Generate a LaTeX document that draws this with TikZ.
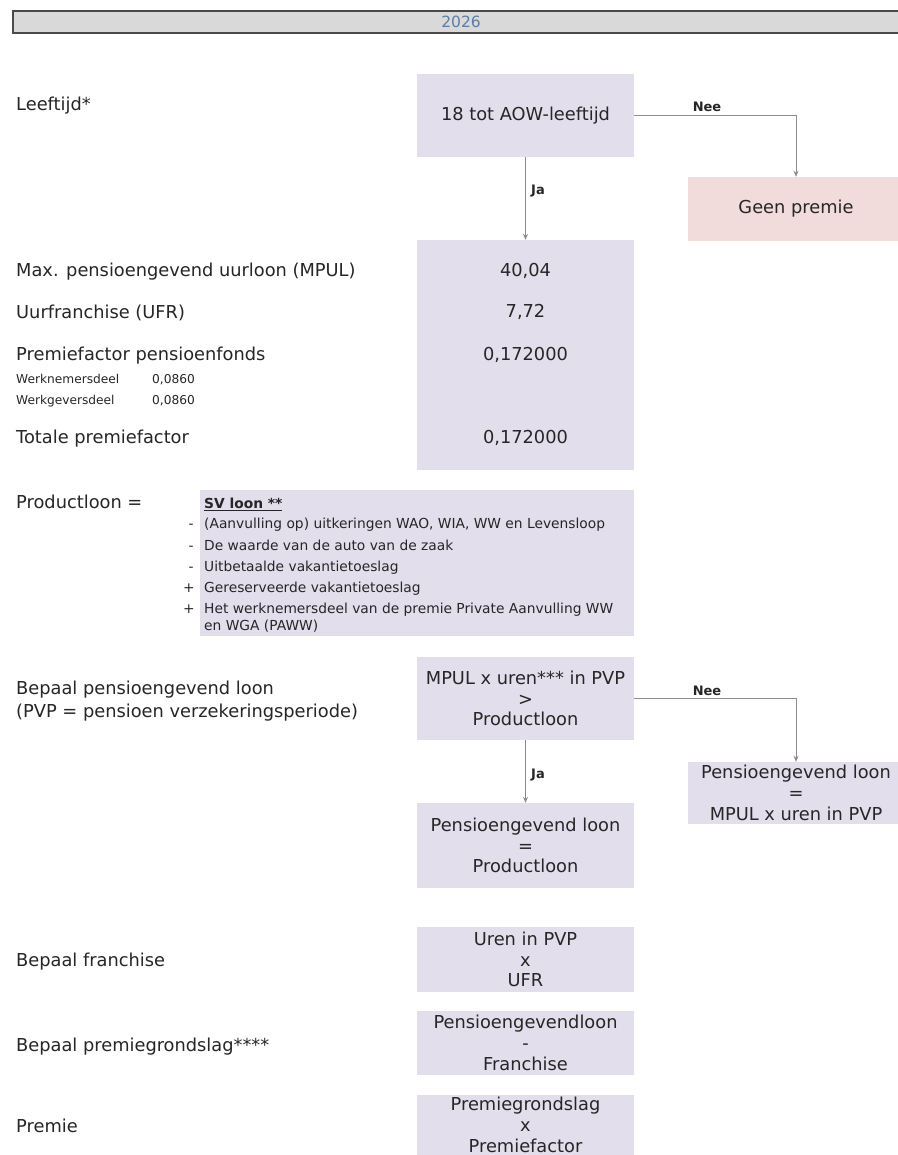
\documentclass[tikz,border=0pt]{standalone}
\usepackage{fontspec}
\setmainfont{DejaVu Sans}
\usetikzlibrary{arrows.meta}
\definecolor{lav}{HTML}{E2DEEC}
\definecolor{pinkbox}{HTML}{F2DCDB}
\definecolor{txt}{HTML}{262626}
\definecolor{barfill}{HTML}{D9D9D9}
\definecolor{barline}{HTML}{4A4A4A}
\definecolor{yeartxt}{HTML}{5A7EA8}
\definecolor{arrowgray}{HTML}{8C8C8C}
\newcommand\mainf{\fontsize{17.8}{20.8}\selectfont}
\newcommand\smallf{\fontsize{13.8}{17}\selectfont}
\newcommand\tinyf{\fontsize{12.2}{14}\selectfont}
\newcommand\lblf{\bfseries\fontsize{13}{15}\selectfont}
\begin{document}
\begin{tikzpicture}[x=1pt,y=-1pt,
  box/.style={fill=lav, draw=none, inner sep=0pt, minimum width=217pt, align=center, font=\mainf, text=txt},
  pbox/.style={fill=pinkbox, draw=none, inner sep=0pt, minimum width=216pt, align=center, font=\mainf, text=txt},
  fixh/.style={text height=0.75em, text depth=0.22em, yshift=-2.5pt},
  lbl/.style={anchor=west, inner sep=0pt, font=\mainf, text=txt, align=left, fixh},
  val/.style={inner sep=0pt, font=\mainf, text=txt, fixh},
  tiny/.style={anchor=west, inner sep=0pt, font=\tinyf, text=txt, fixh},
  sv/.style={anchor=west, inner sep=0pt, font=\smallf, text=txt, align=left, fixh},
  sign/.style={inner sep=0pt, font=\smallf, text=txt, fixh},
  yn/.style={inner sep=0pt, font=\lblf, text=txt, fixh},
  conn/.style={draw=arrowgray, line width=1pt, -{Stealth[length=6pt,width=5pt]}}
]
\useasboundingbox (0,0) rectangle (897,1155);
\fill[white] (0,0) rectangle (897,1155);

% top bar
\node[draw=barline, line width=2pt, fill=barfill, minimum width=895pt, minimum height=22pt, inner sep=0pt, anchor=north west] (bar) at (12,10) {};
\node[inner sep=0pt, font=\fontsize{15.5}{17}\selectfont, text=yeartxt] (year) at (461,21.5) {2026};

% left labels
\node[lbl] (lLeeftijd) at (16,105) {Leeftijd*};
\node[lbl] (lMPUL) at (16,271) {Max. pensioengevend uurloon (MPUL)};
\node[lbl] (lUFR) at (16,313) {Uurfranchise (UFR)};
\node[lbl] (lPF) at (16,355) {Premiefactor pensioenfonds};
\node[tiny] (lWn) at (16,378) {Werknemersdeel};
\node[tiny] (lWnv) at (152,378) {0,0860};
\node[tiny] (lWg) at (16,399) {Werkgeversdeel};
\node[tiny] (lWgv) at (152,399) {0,0860};
\node[lbl] (lTot) at (16,438) {Totale premiefactor};
\node[lbl] (lProd) at (16,503) {Productloon =};
\node[lbl] (lBep1) at (16,689) {Bepaal pensioengevend loon};
\node[lbl] (lBep2) at (16,712) {(PVP = pensioen verzekeringsperiode)};
\node[lbl] (lFr) at (16,961) {Bepaal franchise};
\node[lbl] (lPg) at (16,1046) {Bepaal premiegrondslag****};
\node[lbl] (lPr) at (16,1127) {Premie};

% boxes
\node[box, minimum height=83pt] (b1) at (525.5,115.5) {18 tot AOW-leeftijd};
\node[pbox, minimum height=64pt] (geen) at (796,209) {Geen premie};
\node[box, minimum height=230pt] (b2) at (525.5,355) {};
\node[val] (v1) at (525.5,271) {40,04};
\node[val] (v2) at (525.5,312) {7,72};
\node[val] (v3) at (525.5,355) {0,172000};
\node[val] (v4) at (525.5,438) {0,172000};

% SV loon box
\node[fill=lav, inner sep=0pt, minimum width=434pt, minimum height=146pt] (svb) at (417,563) {};
\node[sv, font=\smallf\bfseries] (svt) at (204,503) {\underline{SV loon **}};
\node[sv] (s1) at (204,523) {(Aanvulling op) uitkeringen WAO, WIA, WW en Levensloop};
\node[sv] (s2) at (204,545) {De waarde van de auto van de zaak};
\node[sv] (s3) at (204,566) {Uitbetaalde vakantietoeslag};
\node[sv] (s4) at (204,587) {Gereserveerde vakantietoeslag};
\node[sv] (s5) at (204,608) {Het werknemersdeel van de premie Private Aanvulling WW};
\node[sv] (s6) at (204,625) {en WGA (PAWW)};
\node[sign] (g1) at (191,523) {-};
\node[sign] (g2) at (191,545) {-};
\node[sign] (g3) at (191,566) {-};
\node[sign] (g4) at (189,587) {+};
\node[sign] (g5) at (189,608) {+};

% PVP decision
\node[box, minimum height=83pt] (b3) at (525.5,698.5) {MPUL x uren*** in PVP\\>\\Productloon};
\node[box, minimum width=216pt, minimum height=62pt] (mp) at (796,793) {Pensioengevend loon\\=\\MPUL x uren in PVP};
\node[box, minimum height=85pt] (b4) at (525.5,845.5) {Pensioengevend loon\\=\\Productloon};

\node[box, minimum height=65pt] (b5) at (525.5,959.5) {Uren in PVP\\x\\UFR};
\node[box, minimum height=64pt] (b6) at (525.5,1043) {Pensioengevendloon\\-\\Franchise};
\node[box, minimum height=64pt] (b7) at (525.5,1127) {};
\node[inner sep=0pt, font=\mainf, text=txt, align=center] (b7t) at (525.5,1125) {Premiegrondslag\\x\\Premiefactor};

% connectors
\draw[conn] (b1.east) -| (geen.north);
\draw[conn] (b1.south) -- (b2.north);
\draw[conn] (b3.east) -| (mp.north);
\draw[conn] (b3.south) -- (b4.north);

% connector labels
\node[yn] (nee1) at (707,106) {Nee};
\node[yn] (ja1) at (538,189) {Ja};
\node[yn] (nee2) at (707,690) {Nee};
\node[yn] (ja2) at (538,773) {Ja};
\end{tikzpicture}
\end{document}
